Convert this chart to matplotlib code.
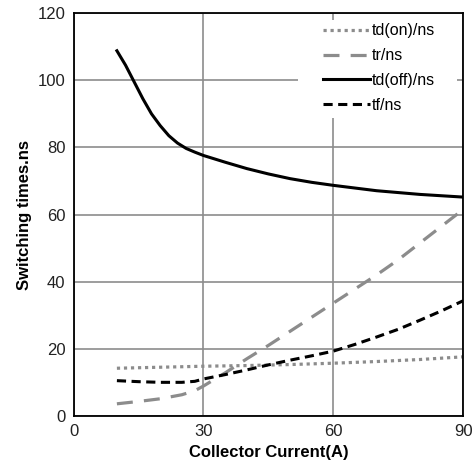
import numpy as np
import matplotlib.pyplot as plt
from matplotlib.patches import Rectangle

plt.rcParams['font.family'] = ['Liberation Sans', 'DejaVu Sans']

# values
ic_on = [10, 20, 30, 40, 50, 60, 70, 80, 90]
td_on = [14.2, 14.5, 14.8, 15.0, 15.3, 15.7, 16.2, 16.8, 17.6]

ic_tr = [10, 15, 20, 25, 28, 30, 35, 40, 45, 50, 55, 60, 65, 70, 75, 80, 85, 90]
tr = [3.6, 4.3, 5.1, 6.3, 7.5, 8.9, 12.8, 17.0, 21.0, 25.2, 29.4, 33.6, 37.8, 42.0, 46.5, 51.5, 56.5, 61.5]

ic_off = [10, 12, 14, 16, 18, 20, 22, 24, 26, 28, 30, 35, 40, 45, 50, 55, 60, 70, 80, 90]
td_off = [108.8, 104.5, 99.5, 94.5, 90.0, 86.5, 83.5, 81.3, 79.7, 78.6, 77.6, 75.6, 73.7, 72.1, 70.7, 69.6, 68.7, 67.1, 66.0, 65.2]

ic_tf = [10, 15, 20, 25, 28, 30, 35, 40, 45, 50, 55, 60, 65, 70, 75, 80, 85, 90]
tf = [10.5, 10.2, 10.0, 10.0, 10.3, 11.0, 12.3, 13.7, 15.2, 16.6, 17.9, 19.3, 21.3, 23.5, 25.8, 28.5, 31.3, 34.3]

fig, ax = plt.subplots(figsize=(4.75, 4.71), dpi=100)
fig.subplots_adjust(left=0.155, right=0.975, top=0.972, bottom=0.117)

ax.plot(ic_on, td_on, color='#8c8c8c', lw=2.3, linestyle=(0, (1, 1.2)), label='td(on)/ns')
ax.plot(ic_tr, tr, color='#8c8c8c', lw=2.3, linestyle=(0, (5, 3.5)), label='tr/ns')
ax.plot(ic_off, td_off, color='black', lw=2.2, label='td(off)/ns')
ax.plot(ic_tf, tf, color='black', lw=2.2, linestyle=(0, (3, 1.8)), label='tf/ns')

ax.set_xlim(0, 90)
ax.set_ylim(0, 120)
ax.set_xticks([0, 30, 60, 90])
ax.set_yticks(np.arange(0, 121, 20))
ax.grid(True, color='#8c8c8c', lw=1.2)
ax.set_axisbelow(True)
ax.tick_params(length=0, labelsize=12, pad=6, colors='#222222')
for s in ax.spines.values():
    s.set_linewidth(1.3)
    s.set_color('black')

ax.set_xlabel('Collector Current(A)', fontsize=12, fontweight='bold', labelpad=4)
ax.set_ylabel('Switching times.ns', fontsize=12, fontweight='bold', labelpad=4)

# white legend area that hides the grid behind it
ax.add_patch(Rectangle((0.577, 0.739), 0.408, 0.244, transform=ax.transAxes,
                       facecolor='white', edgecolor='none', zorder=1.5))
leg = ax.legend(loc='upper left', bbox_to_anchor=(0.641, 0.975), frameon=False,
                fontsize=11.5, handlelength=2.9, handletextpad=0.15, borderpad=0,
                borderaxespad=0, labelspacing=0.62)

plt.savefig('out.png', dpi=100)
